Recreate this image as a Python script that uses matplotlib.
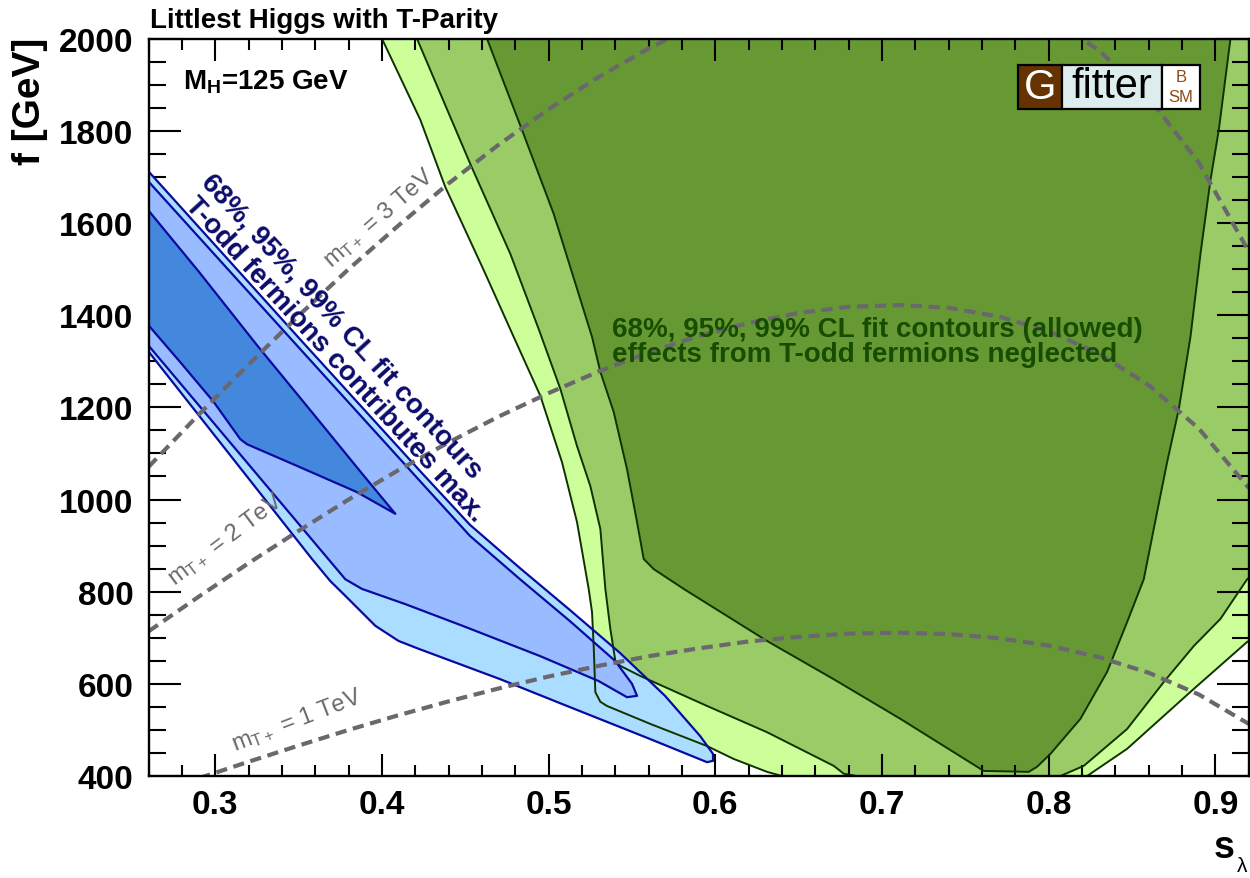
import matplotlib
matplotlib.use("Agg")
import matplotlib.pyplot as plt
from matplotlib.patches import Rectangle
from matplotlib.ticker import MultipleLocator

plt.rcParams["font.family"] = ["Liberation Sans", "DejaVu Sans"]
plt.rcParams["mathtext.fontset"] = "custom"
plt.rcParams["mathtext.rm"] = "Liberation Sans"
plt.rcParams["mathtext.bf"] = "Liberation Sans:bold"
plt.rcParams["mathtext.it"] = "Liberation Sans:italic"

# === allowed region, T-odd fermions neglected (green) ===
green99_s = [0.394, 0.400, 0.423, 0.438, 0.461, 0.479, 0.495, 0.508, 0.517, 0.524, 0.526,
             0.527, 0.528, 0.531, 0.535, 0.561, 0.595, 0.611, 0.631, 0.640, 0.640,
             0.823, 0.823, 0.847, 0.887, 0.919, 0.940, 0.940]
green99_f = [2060, 2000, 1824, 1678, 1498, 1353, 1225, 1081, 951, 806, 756,
             682, 582, 561, 552, 513, 465, 437, 409, 400, 390,
             390, 400, 459, 589, 691, 730, 2060]

green95_s = [0.415, 0.421, 0.453, 0.477, 0.494, 0.507, 0.517, 0.525, 0.531, 0.534, 0.537,
             0.540, 0.543, 0.555, 0.595, 0.631, 0.671, 0.677, 0.700, 0.805, 0.807,
             0.821, 0.847, 0.869, 0.887, 0.903, 0.919, 0.935, 0.935]
green95_f = [2060, 2000, 1728, 1533, 1370, 1240, 1116, 1029, 936, 806, 719,
             650, 639, 617, 552, 495, 422, 405, 390, 390, 400,
             422, 502, 604, 682, 741, 827, 870, 2060]

green68_s = [0.458, 0.463, 0.484, 0.503, 0.526, 0.531, 0.539, 0.547, 0.553, 0.557, 0.563,
             0.581, 0.631, 0.671, 0.711, 0.761, 0.788, 0.793, 0.801, 0.819, 0.835,
             0.847, 0.857, 0.865, 0.871, 0.878, 0.885, 0.891, 0.897, 0.902, 0.909, 0.911]
green68_f = [2060, 2000, 1802, 1620, 1353, 1277, 1190, 1066, 951, 871, 849,
             806, 693, 610, 524, 411, 409, 420, 448, 524, 626,
             734, 827, 973, 1081, 1196, 1353, 1533, 1693, 1802, 2000, 2060]

# === fit with maximal T-odd fermion contribution (blue) ===
blue99_s = [0.250, 0.2602, 0.3508, 0.4228, 0.4528, 0.4828, 0.5128, 0.5428, 0.5698, 0.5908,
            0.5986, 0.5986, 0.595, 0.561, 0.511, 0.471, 0.422, 0.410, 0.396, 0.378, 0.369,
            0.358, 0.2602, 0.250]
blue99_f = [1750, 1711, 1348, 1062, 945, 851, 760, 667, 574, 487,
            448, 433, 430, 480, 552, 610, 676, 693, 726, 791, 823,
            871, 1320, 1345]

blue95_s = [0.250, 0.2602, 0.3508, 0.4228, 0.4528, 0.4828, 0.5128, 0.5398, 0.550, 0.553,
            0.547, 0.530, 0.495, 0.449, 0.414, 0.388, 0.378, 0.2602, 0.250]
blue95_f = [1729, 1689, 1327, 1040, 921, 827, 736, 650, 600, 574,
            571, 606, 660, 725, 773, 806, 827, 1333, 1358]

blue68_s = [0.250, 0.2602, 0.290, 0.325, 0.359, 0.389, 0.408, 0.385, 0.349, 0.319, 0.315,
            0.299, 0.279, 0.2602, 0.250]
blue68_f = [1670, 1626, 1495, 1335, 1185, 1052, 969, 1016, 1073, 1120, 1131,
            1212, 1298, 1377, 1400]

# === iso-mass lines of the T+ partner ===
mt_s = [0.26, 0.29, 0.32, 0.35, 0.38, 0.41, 0.44, 0.47, 0.50, 0.53, 0.56, 0.59,
        0.62, 0.65, 0.68, 0.71, 0.74, 0.77, 0.80, 0.83, 0.86, 0.89, 0.92]
mt1_f = [357, 395, 431, 466, 500, 532, 562, 590, 616, 639, 660, 677,
         692, 702, 709, 711, 708, 699, 683, 658, 624, 577, 513]
mt2_f = [714, 789, 862, 932, 1000, 1064, 1124, 1180, 1231, 1278, 1319, 1355,
         1383, 1405, 1418, 1422, 1416, 1397, 1365, 1317, 1248, 1154, 1025]
mt3_f = [1071, 1184, 1293, 1399, 1500, 1595, 1686, 1770, 1847, 1917, 1979, 2032,
         2075, 2107, 2127, 2133, 2123, 2096, 2048, 1975, 1872, 1731, 1538]

GREEN_FILL = ["#ccff99", "#99cc66", "#669933"]
GREEN_LINE = "#0f3300"
BLUE_FILL = ["#aaddff", "#99bbff", "#4488dd"]
BLUE_LINE = "#0a0aa0"

W, H = 1250, 879
fig = plt.figure(figsize=(W / 100, H / 100), dpi=100)
ax = fig.add_axes([148.6 / W, 1 - 777 / H, 1100.2 / W, 737.3 / H])
ax.set_xlim(0.26, 0.92)
ax.set_ylim(400, 2000)

green = [(green99_s, green99_f), (green95_s, green95_f), (green68_s, green68_f)]
blue = [(blue99_s, blue99_f), (blue95_s, blue95_f), (blue68_s, blue68_f)]

for (s, f), col in zip(green, GREEN_FILL):
    ax.fill(s, f, facecolor=col, edgecolor="none", zorder=1)
for (s, f), col in zip(blue, BLUE_FILL):
    ax.fill(s, f, facecolor=col, edgecolor="none", zorder=2)
for s, f in green:
    ax.plot(s + s[:1], f + f[:1], color=GREEN_LINE, lw=1.4, zorder=3)
for s, f in blue:
    ax.plot(s + s[:1], f + f[:1], color=BLUE_LINE, lw=1.6, zorder=4)

for f in (mt1_f, mt2_f, mt3_f):
    ax.plot(mt_s, f, color="#6a676e", lw=3.0, dashes=(2.7, 1.6), zorder=5)

# mass labels along the dashed lines
mt_kw = dict(color="#6a676e", fontsize=17, ha="center", va="center",
             rotation_mode="anchor", zorder=6)
ax.text(0.349, 522, r"m$_{\mathrm{T+}}$ = 1 TeV", rotation=21, **mt_kw)
ax.text(0.306, 915, r"m$_{\mathrm{T+}}$ = 2 TeV", rotation=37, **mt_kw)
ax.text(0.398, 1612, r"m$_{\mathrm{T+}}$ = 3 TeV", rotation=41, **mt_kw)

blue_kw = dict(color="#0b0b6b", fontsize=20, fontweight="bold", ha="center",
               va="center", rotation=-47.5, rotation_mode="anchor", zorder=6)
ax.text(0.3755, 1378, "68%, 95%, 99% CL fit contours", **blue_kw)
ax.text(0.3718, 1305, "T-odd fermions contributes max.", **blue_kw)

green_kw = dict(color="#174d00", fontsize=20, fontweight="bold", ha="left",
                va="baseline", zorder=6)
ax.text(0.538, 1355, "68%, 95%, 99% CL fit contours (allowed)", **green_kw)
ax.text(0.538, 1300, "effects from T-odd fermions neglected", **green_kw)

ax.text(0.2805, 1893, r"M$_{\mathbf{H}}$=125 GeV", fontsize=20, fontweight="bold",
        ha="left", va="baseline", zorder=6)

# axes frame and ticks
ax.xaxis.set_major_locator(MultipleLocator(0.1))
ax.xaxis.set_minor_locator(MultipleLocator(0.02))
ax.yaxis.set_major_locator(MultipleLocator(200))
ax.yaxis.set_minor_locator(MultipleLocator(50))
ax.tick_params(which="both", direction="in", top=True, right=True, width=1.5,
               labelsize=24, zorder=10)
ax.tick_params(axis="x", which="major", length=16, pad=9)
ax.tick_params(axis="x", which="minor", length=8)
ax.tick_params(axis="y", which="major", length=23, pad=11)
ax.tick_params(axis="y", which="minor", length=12)
ax.set_xticks([0.3, 0.4, 0.5, 0.6, 0.7, 0.8, 0.9])
ax.set_xticklabels(["0.3", "0.4", "0.5", "0.6", "0.7", "0.8", "0.9"])
for lab in ax.get_xticklabels() + ax.get_yticklabels():
    lab.set_fontweight("bold")
for sp in ax.spines.values():
    sp.set_linewidth(1.7)
    sp.set_zorder(10)

fig.text(150 / W, 1 - 28 / H, "Littlest Higgs with T-Parity", fontsize=20,
         fontweight="bold", ha="left", va="baseline")
fig.text(30 / W, 1 - 38 / H, "f [GeV]", fontsize=28, fontweight="bold",
         rotation=90, ha="center", va="top")
fig.text(1224 / W, 1 - 858 / H, "s", fontsize=27, fontweight="bold",
         ha="center", va="baseline")
fig.text(1242 / W, 1 - 872 / H, "λ", fontsize=15, ha="center", va="baseline")

# Gfitter logo
def fbox(x0, y0, x1, y1, color):
    fig.patches.append(Rectangle((x0 / W, 1 - y1 / H), (x1 - x0) / W, (y1 - y0) / H,
                                 transform=fig.transFigure, facecolor=color,
                                 edgecolor="black", lw=1.6, zorder=20))

fbox(1018, 66, 1062, 110, "#663300")
fbox(1062, 66, 1162, 110, "#ddecec")
fbox(1162, 66, 1200, 110, "white")
fig.text(1040 / W, 1 - 88 / H, "G", color="white", fontsize=30, ha="center",
         va="center", zorder=21)
fig.text(1112 / W, 1 - 87 / H, "fitter", color="black", fontsize=30, ha="center",
         va="center", zorder=21)
fig.text(1181 / W, 1 - 77 / H, "B", color="#8a4a1a", fontsize=12, ha="center",
         va="center", zorder=21)
fig.text(1181 / W, 1 - 97 / H, "SM", color="#8a4a1a", fontsize=12, ha="center",
         va="center", zorder=21)

fig.savefig("out.png", dpi=100)
